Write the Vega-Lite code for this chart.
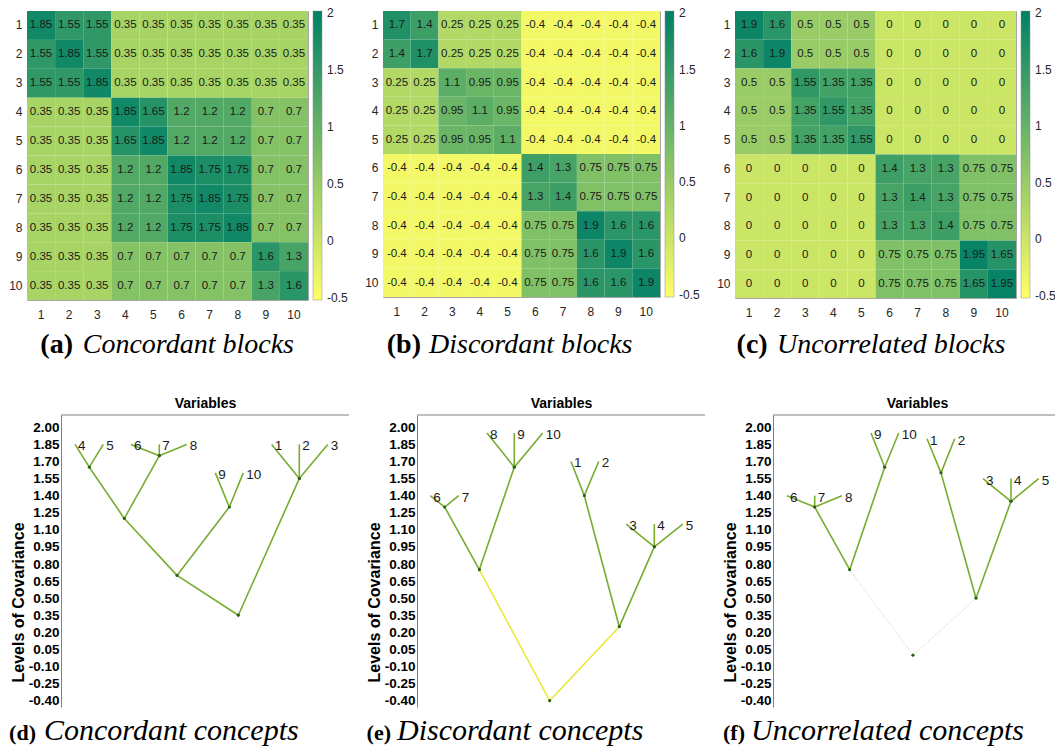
{
  "$schema": "https://vega.github.io/schema/vega-lite/v6.json",
  "background": "white",
  "padding": {"left": 8, "top": 10, "right": 0, "bottom": 0},
  "config": {
    "font": "Liberation Sans",
    "axis": {"grid": false, "labelOverlap": false},
    "legend": {"padding": 0}
  },
  "datasets": {
    "heatA": [
      {"r":1,"c":1,"v":1.85},{"r":1,"c":2,"v":1.55},{"r":1,"c":3,"v":1.55},{"r":1,"c":4,"v":0.35},{"r":1,"c":5,"v":0.35},{"r":1,"c":6,"v":0.35},{"r":1,"c":7,"v":0.35},{"r":1,"c":8,"v":0.35},{"r":1,"c":9,"v":0.35},{"r":1,"c":10,"v":0.35},
      {"r":2,"c":1,"v":1.55},{"r":2,"c":2,"v":1.85},{"r":2,"c":3,"v":1.55},{"r":2,"c":4,"v":0.35},{"r":2,"c":5,"v":0.35},{"r":2,"c":6,"v":0.35},{"r":2,"c":7,"v":0.35},{"r":2,"c":8,"v":0.35},{"r":2,"c":9,"v":0.35},{"r":2,"c":10,"v":0.35},
      {"r":3,"c":1,"v":1.55},{"r":3,"c":2,"v":1.55},{"r":3,"c":3,"v":1.85},{"r":3,"c":4,"v":0.35},{"r":3,"c":5,"v":0.35},{"r":3,"c":6,"v":0.35},{"r":3,"c":7,"v":0.35},{"r":3,"c":8,"v":0.35},{"r":3,"c":9,"v":0.35},{"r":3,"c":10,"v":0.35},
      {"r":4,"c":1,"v":0.35},{"r":4,"c":2,"v":0.35},{"r":4,"c":3,"v":0.35},{"r":4,"c":4,"v":1.85},{"r":4,"c":5,"v":1.65},{"r":4,"c":6,"v":1.2},{"r":4,"c":7,"v":1.2},{"r":4,"c":8,"v":1.2},{"r":4,"c":9,"v":0.7},{"r":4,"c":10,"v":0.7},
      {"r":5,"c":1,"v":0.35},{"r":5,"c":2,"v":0.35},{"r":5,"c":3,"v":0.35},{"r":5,"c":4,"v":1.65},{"r":5,"c":5,"v":1.85},{"r":5,"c":6,"v":1.2},{"r":5,"c":7,"v":1.2},{"r":5,"c":8,"v":1.2},{"r":5,"c":9,"v":0.7},{"r":5,"c":10,"v":0.7},
      {"r":6,"c":1,"v":0.35},{"r":6,"c":2,"v":0.35},{"r":6,"c":3,"v":0.35},{"r":6,"c":4,"v":1.2},{"r":6,"c":5,"v":1.2},{"r":6,"c":6,"v":1.85},{"r":6,"c":7,"v":1.75},{"r":6,"c":8,"v":1.75},{"r":6,"c":9,"v":0.7},{"r":6,"c":10,"v":0.7},
      {"r":7,"c":1,"v":0.35},{"r":7,"c":2,"v":0.35},{"r":7,"c":3,"v":0.35},{"r":7,"c":4,"v":1.2},{"r":7,"c":5,"v":1.2},{"r":7,"c":6,"v":1.75},{"r":7,"c":7,"v":1.85},{"r":7,"c":8,"v":1.75},{"r":7,"c":9,"v":0.7},{"r":7,"c":10,"v":0.7},
      {"r":8,"c":1,"v":0.35},{"r":8,"c":2,"v":0.35},{"r":8,"c":3,"v":0.35},{"r":8,"c":4,"v":1.2},{"r":8,"c":5,"v":1.2},{"r":8,"c":6,"v":1.75},{"r":8,"c":7,"v":1.75},{"r":8,"c":8,"v":1.85},{"r":8,"c":9,"v":0.7},{"r":8,"c":10,"v":0.7},
      {"r":9,"c":1,"v":0.35},{"r":9,"c":2,"v":0.35},{"r":9,"c":3,"v":0.35},{"r":9,"c":4,"v":0.7},{"r":9,"c":5,"v":0.7},{"r":9,"c":6,"v":0.7},{"r":9,"c":7,"v":0.7},{"r":9,"c":8,"v":0.7},{"r":9,"c":9,"v":1.6},{"r":9,"c":10,"v":1.3},
      {"r":10,"c":1,"v":0.35},{"r":10,"c":2,"v":0.35},{"r":10,"c":3,"v":0.35},{"r":10,"c":4,"v":0.7},{"r":10,"c":5,"v":0.7},{"r":10,"c":6,"v":0.7},{"r":10,"c":7,"v":0.7},{"r":10,"c":8,"v":0.7},{"r":10,"c":9,"v":1.3},{"r":10,"c":10,"v":1.6}
    ],
    "heatB": [
      {"r":1,"c":1,"v":1.7},{"r":1,"c":2,"v":1.4},{"r":1,"c":3,"v":0.25},{"r":1,"c":4,"v":0.25},{"r":1,"c":5,"v":0.25},{"r":1,"c":6,"v":-0.4},{"r":1,"c":7,"v":-0.4},{"r":1,"c":8,"v":-0.4},{"r":1,"c":9,"v":-0.4},{"r":1,"c":10,"v":-0.4},
      {"r":2,"c":1,"v":1.4},{"r":2,"c":2,"v":1.7},{"r":2,"c":3,"v":0.25},{"r":2,"c":4,"v":0.25},{"r":2,"c":5,"v":0.25},{"r":2,"c":6,"v":-0.4},{"r":2,"c":7,"v":-0.4},{"r":2,"c":8,"v":-0.4},{"r":2,"c":9,"v":-0.4},{"r":2,"c":10,"v":-0.4},
      {"r":3,"c":1,"v":0.25},{"r":3,"c":2,"v":0.25},{"r":3,"c":3,"v":1.1},{"r":3,"c":4,"v":0.95},{"r":3,"c":5,"v":0.95},{"r":3,"c":6,"v":-0.4},{"r":3,"c":7,"v":-0.4},{"r":3,"c":8,"v":-0.4},{"r":3,"c":9,"v":-0.4},{"r":3,"c":10,"v":-0.4},
      {"r":4,"c":1,"v":0.25},{"r":4,"c":2,"v":0.25},{"r":4,"c":3,"v":0.95},{"r":4,"c":4,"v":1.1},{"r":4,"c":5,"v":0.95},{"r":4,"c":6,"v":-0.4},{"r":4,"c":7,"v":-0.4},{"r":4,"c":8,"v":-0.4},{"r":4,"c":9,"v":-0.4},{"r":4,"c":10,"v":-0.4},
      {"r":5,"c":1,"v":0.25},{"r":5,"c":2,"v":0.25},{"r":5,"c":3,"v":0.95},{"r":5,"c":4,"v":0.95},{"r":5,"c":5,"v":1.1},{"r":5,"c":6,"v":-0.4},{"r":5,"c":7,"v":-0.4},{"r":5,"c":8,"v":-0.4},{"r":5,"c":9,"v":-0.4},{"r":5,"c":10,"v":-0.4},
      {"r":6,"c":1,"v":-0.4},{"r":6,"c":2,"v":-0.4},{"r":6,"c":3,"v":-0.4},{"r":6,"c":4,"v":-0.4},{"r":6,"c":5,"v":-0.4},{"r":6,"c":6,"v":1.4},{"r":6,"c":7,"v":1.3},{"r":6,"c":8,"v":0.75},{"r":6,"c":9,"v":0.75},{"r":6,"c":10,"v":0.75},
      {"r":7,"c":1,"v":-0.4},{"r":7,"c":2,"v":-0.4},{"r":7,"c":3,"v":-0.4},{"r":7,"c":4,"v":-0.4},{"r":7,"c":5,"v":-0.4},{"r":7,"c":6,"v":1.3},{"r":7,"c":7,"v":1.4},{"r":7,"c":8,"v":0.75},{"r":7,"c":9,"v":0.75},{"r":7,"c":10,"v":0.75},
      {"r":8,"c":1,"v":-0.4},{"r":8,"c":2,"v":-0.4},{"r":8,"c":3,"v":-0.4},{"r":8,"c":4,"v":-0.4},{"r":8,"c":5,"v":-0.4},{"r":8,"c":6,"v":0.75},{"r":8,"c":7,"v":0.75},{"r":8,"c":8,"v":1.9},{"r":8,"c":9,"v":1.6},{"r":8,"c":10,"v":1.6},
      {"r":9,"c":1,"v":-0.4},{"r":9,"c":2,"v":-0.4},{"r":9,"c":3,"v":-0.4},{"r":9,"c":4,"v":-0.4},{"r":9,"c":5,"v":-0.4},{"r":9,"c":6,"v":0.75},{"r":9,"c":7,"v":0.75},{"r":9,"c":8,"v":1.6},{"r":9,"c":9,"v":1.9},{"r":9,"c":10,"v":1.6},
      {"r":10,"c":1,"v":-0.4},{"r":10,"c":2,"v":-0.4},{"r":10,"c":3,"v":-0.4},{"r":10,"c":4,"v":-0.4},{"r":10,"c":5,"v":-0.4},{"r":10,"c":6,"v":0.75},{"r":10,"c":7,"v":0.75},{"r":10,"c":8,"v":1.6},{"r":10,"c":9,"v":1.6},{"r":10,"c":10,"v":1.9}
    ],
    "heatC": [
      {"r":1,"c":1,"v":1.9},{"r":1,"c":2,"v":1.6},{"r":1,"c":3,"v":0.5},{"r":1,"c":4,"v":0.5},{"r":1,"c":5,"v":0.5},{"r":1,"c":6,"v":0},{"r":1,"c":7,"v":0},{"r":1,"c":8,"v":0},{"r":1,"c":9,"v":0},{"r":1,"c":10,"v":0},
      {"r":2,"c":1,"v":1.6},{"r":2,"c":2,"v":1.9},{"r":2,"c":3,"v":0.5},{"r":2,"c":4,"v":0.5},{"r":2,"c":5,"v":0.5},{"r":2,"c":6,"v":0},{"r":2,"c":7,"v":0},{"r":2,"c":8,"v":0},{"r":2,"c":9,"v":0},{"r":2,"c":10,"v":0},
      {"r":3,"c":1,"v":0.5},{"r":3,"c":2,"v":0.5},{"r":3,"c":3,"v":1.55},{"r":3,"c":4,"v":1.35},{"r":3,"c":5,"v":1.35},{"r":3,"c":6,"v":0},{"r":3,"c":7,"v":0},{"r":3,"c":8,"v":0},{"r":3,"c":9,"v":0},{"r":3,"c":10,"v":0},
      {"r":4,"c":1,"v":0.5},{"r":4,"c":2,"v":0.5},{"r":4,"c":3,"v":1.35},{"r":4,"c":4,"v":1.55},{"r":4,"c":5,"v":1.35},{"r":4,"c":6,"v":0},{"r":4,"c":7,"v":0},{"r":4,"c":8,"v":0},{"r":4,"c":9,"v":0},{"r":4,"c":10,"v":0},
      {"r":5,"c":1,"v":0.5},{"r":5,"c":2,"v":0.5},{"r":5,"c":3,"v":1.35},{"r":5,"c":4,"v":1.35},{"r":5,"c":5,"v":1.55},{"r":5,"c":6,"v":0},{"r":5,"c":7,"v":0},{"r":5,"c":8,"v":0},{"r":5,"c":9,"v":0},{"r":5,"c":10,"v":0},
      {"r":6,"c":1,"v":0},{"r":6,"c":2,"v":0},{"r":6,"c":3,"v":0},{"r":6,"c":4,"v":0},{"r":6,"c":5,"v":0},{"r":6,"c":6,"v":1.4},{"r":6,"c":7,"v":1.3},{"r":6,"c":8,"v":1.3},{"r":6,"c":9,"v":0.75},{"r":6,"c":10,"v":0.75},
      {"r":7,"c":1,"v":0},{"r":7,"c":2,"v":0},{"r":7,"c":3,"v":0},{"r":7,"c":4,"v":0},{"r":7,"c":5,"v":0},{"r":7,"c":6,"v":1.3},{"r":7,"c":7,"v":1.4},{"r":7,"c":8,"v":1.3},{"r":7,"c":9,"v":0.75},{"r":7,"c":10,"v":0.75},
      {"r":8,"c":1,"v":0},{"r":8,"c":2,"v":0},{"r":8,"c":3,"v":0},{"r":8,"c":4,"v":0},{"r":8,"c":5,"v":0},{"r":8,"c":6,"v":1.3},{"r":8,"c":7,"v":1.3},{"r":8,"c":8,"v":1.4},{"r":8,"c":9,"v":0.75},{"r":8,"c":10,"v":0.75},
      {"r":9,"c":1,"v":0},{"r":9,"c":2,"v":0},{"r":9,"c":3,"v":0},{"r":9,"c":4,"v":0},{"r":9,"c":5,"v":0},{"r":9,"c":6,"v":0.75},{"r":9,"c":7,"v":0.75},{"r":9,"c":8,"v":0.75},{"r":9,"c":9,"v":1.95},{"r":9,"c":10,"v":1.65},
      {"r":10,"c":1,"v":0},{"r":10,"c":2,"v":0},{"r":10,"c":3,"v":0},{"r":10,"c":4,"v":0},{"r":10,"c":5,"v":0},{"r":10,"c":6,"v":0.75},{"r":10,"c":7,"v":0.75},{"r":10,"c":8,"v":0.75},{"r":10,"c":9,"v":1.65},{"r":10,"c":10,"v":1.95}
    ],
    "treeD": [
      {"x":14,"y":1.85,"x2":28.3,"y2":1.65,"leaf":"4"},
      {"x":42.3,"y":1.85,"x2":28.3,"y2":1.65,"leaf":"5"},
      {"x":70,"y":1.85,"x2":98.3,"y2":1.75,"leaf":"6"},
      {"x":98.3,"y":1.85,"x2":98.3,"y2":1.75,"leaf":"7"},
      {"x":125.7,"y":1.85,"x2":98.3,"y2":1.75,"leaf":"8"},
      {"x":28.3,"y":1.65,"x2":63.3,"y2":1.2},
      {"x":98.3,"y":1.75,"x2":63.3,"y2":1.2},
      {"x":154.3,"y":1.6,"x2":168.3,"y2":1.3,"leaf":"9"},
      {"x":182.3,"y":1.6,"x2":168.3,"y2":1.3,"leaf":"10"},
      {"x":63.3,"y":1.2,"x2":116,"y2":0.7},
      {"x":168.3,"y":1.3,"x2":116,"y2":0.7},
      {"x":210.7,"y":1.85,"x2":238.3,"y2":1.55,"leaf":"1"},
      {"x":238.3,"y":1.85,"x2":238.3,"y2":1.55,"leaf":"2"},
      {"x":266.7,"y":1.85,"x2":238.3,"y2":1.55,"leaf":"3"},
      {"x":116,"y":0.7,"x2":177.3,"y2":0.35,"k":"root"},
      {"x":238.3,"y":1.55,"x2":177.3,"y2":0.35,"k":"root"}
    ],
    "treeE": [
      {"x":13.3,"y":1.4,"x2":27.7,"y2":1.3,"leaf":"6"},
      {"x":41.7,"y":1.4,"x2":27.7,"y2":1.3,"leaf":"7"},
      {"x":70,"y":1.95,"x2":97.3,"y2":1.65,"leaf":"8"},
      {"x":97.3,"y":1.95,"x2":97.3,"y2":1.65,"leaf":"9"},
      {"x":125.7,"y":1.95,"x2":97.3,"y2":1.65,"leaf":"10"},
      {"x":27.7,"y":1.3,"x2":62.3,"y2":0.75},
      {"x":97.3,"y":1.65,"x2":62.3,"y2":0.75},
      {"x":154,"y":1.7,"x2":167.3,"y2":1.4,"leaf":"1"},
      {"x":181.7,"y":1.7,"x2":167.3,"y2":1.4,"leaf":"2"},
      {"x":209.3,"y":1.15,"x2":237.3,"y2":0.95,"leaf":"3"},
      {"x":237.3,"y":1.15,"x2":237.3,"y2":0.95,"leaf":"4"},
      {"x":265.7,"y":1.15,"x2":237.3,"y2":0.95,"leaf":"5"},
      {"x":167.3,"y":1.4,"x2":202.3,"y2":0.25},
      {"x":237.3,"y":0.95,"x2":202.3,"y2":0.25},
      {"x":62.3,"y":0.75,"x2":132.7,"y2":-0.4,"k":"root"},
      {"x":202.3,"y":0.25,"x2":132.7,"y2":-0.4,"k":"root"}
    ],
    "treeF": [
      {"x":14,"y":1.4,"x2":41.7,"y2":1.3,"leaf":"6"},
      {"x":41.7,"y":1.4,"x2":41.7,"y2":1.3,"leaf":"7"},
      {"x":69,"y":1.4,"x2":41.7,"y2":1.3,"leaf":"8"},
      {"x":98,"y":1.95,"x2":111.7,"y2":1.65,"leaf":"9"},
      {"x":125.7,"y":1.95,"x2":111.7,"y2":1.65,"leaf":"10"},
      {"x":41.7,"y":1.3,"x2":76.7,"y2":0.75},
      {"x":111.7,"y":1.65,"x2":76.7,"y2":0.75},
      {"x":154,"y":1.9,"x2":168,"y2":1.6,"leaf":"1"},
      {"x":181.7,"y":1.9,"x2":168,"y2":1.6,"leaf":"2"},
      {"x":210,"y":1.55,"x2":238,"y2":1.35,"leaf":"3"},
      {"x":238,"y":1.55,"x2":238,"y2":1.35,"leaf":"4"},
      {"x":265.7,"y":1.55,"x2":238,"y2":1.35,"leaf":"5"},
      {"x":168,"y":1.6,"x2":203,"y2":0.5},
      {"x":238,"y":1.35,"x2":203,"y2":0.5},
      {"x":76.7,"y":0.75,"x2":140,"y2":0,"k":"root"},
      {"x":203,"y":0.5,"x2":140,"y2":0,"k":"root"}
    ]
  },
  "spacing": 36,
  "resolve": {"scale": {"color": "independent"}, "legend": {"color": "independent"}},
  "vconcat": [
    {
      "spacing": 15,
      "resolve": {"scale": {"color": "independent"}, "legend": {"color": "independent"}},
      "hconcat": [
        {
          "width": 281, "height": 289,
          "view": {"stroke": "#a6a6a6", "strokeWidth": 1},
          "data": {"name": "heatA"},
          "layer": [
            {
              "mark": {"type": "rect"},
              "encoding": {
                "x": {"field": "c", "type": "ordinal", "scale": {"paddingInner": 0, "paddingOuter": 0},
                  "axis": {"orient": "bottom", "title": null, "domain": false, "ticks": false, "labelAngle": 0, "labelPadding": 9, "labelFontSize": 12, "labelColor": "#262626"}},
                "y": {"field": "r", "type": "ordinal", "scale": {"paddingInner": 0, "paddingOuter": 0},
                  "axis": {"title": null, "domain": false, "ticks": false, "labelPadding": 5, "labelFontSize": 12, "labelColor": "#262626"}},
                "color": {"field": "v", "type": "quantitative",
                  "scale": {"domain": [-0.52, 2.02], "range": ["#ffff66", "#008066"], "interpolate": "rgb"},
                  "legend": {"orient": "right", "offset": 5, "padding": 0, "title": null, "direction": "vertical", "gradientLength": 289, "gradientThickness": 9, "gradientStrokeColor": "#8c8c8c", "gradientStrokeWidth": 0.5, "labelOffset": 5, "labelFontSize": 12, "labelColor": "#262626", "values": [-0.5, 0, 0.5, 1, 1.5, 2], "labelExpr": "datum.value + ''", "labelOverlap": false}}
              }
            },
            {
              "mark": {"type": "text", "fontSize": 11.5, "color": "#1a1a1a"},
              "encoding": {
                "x": {"field": "c", "type": "ordinal"},
                "y": {"field": "r", "type": "ordinal"},
                "text": {"field": "v", "type": "nominal"}
              }
            },
            {
              "data": {"values": [{"t": "(a)"}]},
              "mark": {"type": "text", "font": "Liberation Serif", "fontWeight": "bold", "fontSize": 28, "align": "right", "baseline": "alphabetic", "y": "height", "dy": 53, "dx": -94.5, "color": "black"},
              "encoding": {"text": {"field": "t", "type": "nominal"}}
            },
            {
              "data": {"values": [{"t": "Concordant blocks"}]},
              "mark": {"type": "text", "font": "Liberation Serif", "fontStyle": "italic", "fontSize": 28, "align": "left", "baseline": "alphabetic", "y": "height", "dy": 53, "dx": -84.8, "color": "black"},
              "encoding": {"text": {"field": "t", "type": "nominal"}}
            }
          ]
        },
        {
          "width": 277, "height": 286,
          "view": {"stroke": "#a6a6a6", "strokeWidth": 1},
          "data": {"name": "heatB"},
          "layer": [
            {
              "mark": {"type": "rect"},
              "encoding": {
                "x": {"field": "c", "type": "ordinal", "scale": {"paddingInner": 0, "paddingOuter": 0},
                  "axis": {"orient": "bottom", "title": null, "domain": false, "ticks": false, "labelAngle": 0, "labelPadding": 9, "labelFontSize": 12, "labelColor": "#262626"}},
                "y": {"field": "r", "type": "ordinal", "scale": {"paddingInner": 0, "paddingOuter": 0},
                  "axis": {"title": null, "domain": false, "ticks": false, "labelPadding": 5, "labelFontSize": 12, "labelColor": "#262626"}},
                "color": {"field": "v", "type": "quantitative",
                  "scale": {"domain": [-0.52, 2.02], "range": ["#ffff66", "#008066"], "interpolate": "rgb"},
                  "legend": {"orient": "right", "offset": 5, "padding": 0, "title": null, "direction": "vertical", "gradientLength": 286, "gradientThickness": 9, "gradientStrokeColor": "#8c8c8c", "gradientStrokeWidth": 0.5, "labelOffset": 5, "labelFontSize": 12, "labelColor": "#262626", "values": [-0.5, 0, 0.5, 1, 1.5, 2], "labelExpr": "datum.value + ''", "labelOverlap": false}}
              }
            },
            {
              "mark": {"type": "text", "fontSize": 11.5, "color": "#1a1a1a"},
              "encoding": {
                "x": {"field": "c", "type": "ordinal"},
                "y": {"field": "r", "type": "ordinal"},
                "text": {"field": "v", "type": "nominal"}
              }
            },
            {
              "data": {"values": [{"t": "(b)"}]},
              "mark": {"type": "text", "font": "Liberation Serif", "fontWeight": "bold", "fontSize": 28, "align": "right", "baseline": "alphabetic", "y": "height", "dy": 56, "dx": -100.5, "color": "black"},
              "encoding": {"text": {"field": "t", "type": "nominal"}}
            },
            {
              "data": {"values": [{"t": "Discordant blocks"}]},
              "mark": {"type": "text", "font": "Liberation Serif", "fontStyle": "italic", "fontSize": 28, "align": "left", "baseline": "alphabetic", "y": "height", "dy": 56, "dx": -92.5, "color": "black"},
              "encoding": {"text": {"field": "t", "type": "nominal"}}
            }
          ]
        },
        {
          "width": 281, "height": 287,
          "view": {"stroke": "#a6a6a6", "strokeWidth": 1},
          "data": {"name": "heatC"},
          "layer": [
            {
              "mark": {"type": "rect"},
              "encoding": {
                "x": {"field": "c", "type": "ordinal", "scale": {"paddingInner": 0, "paddingOuter": 0},
                  "axis": {"orient": "bottom", "title": null, "domain": false, "ticks": false, "labelAngle": 0, "labelPadding": 9, "labelFontSize": 12, "labelColor": "#262626"}},
                "y": {"field": "r", "type": "ordinal", "scale": {"paddingInner": 0, "paddingOuter": 0},
                  "axis": {"title": null, "domain": false, "ticks": false, "labelPadding": 5, "labelFontSize": 12, "labelColor": "#262626"}},
                "color": {"field": "v", "type": "quantitative",
                  "scale": {"domain": [-0.52, 2.02], "range": ["#ffff66", "#008066"], "interpolate": "rgb"},
                  "legend": {"orient": "right", "offset": 5, "padding": 0, "title": null, "direction": "vertical", "gradientLength": 287, "gradientThickness": 9, "gradientStrokeColor": "#8c8c8c", "gradientStrokeWidth": 0.5, "labelOffset": 5, "labelFontSize": 12, "labelColor": "#262626", "values": [-0.5, 0, 0.5, 1, 1.5, 2], "labelExpr": "datum.value + ''", "labelOverlap": false}}
              }
            },
            {
              "mark": {"type": "text", "fontSize": 11.5, "color": "#1a1a1a"},
              "encoding": {
                "x": {"field": "c", "type": "ordinal"},
                "y": {"field": "r", "type": "ordinal"},
                "text": {"field": "v", "type": "nominal"}
              }
            },
            {
              "data": {"values": [{"t": "(c)"}]},
              "mark": {"type": "text", "font": "Liberation Serif", "fontWeight": "bold", "fontSize": 28, "align": "right", "baseline": "alphabetic", "y": "height", "dy": 55, "dx": -107.8, "color": "black"},
              "encoding": {"text": {"field": "t", "type": "nominal"}}
            },
            {
              "data": {"values": [{"t": "Uncorrelated blocks"}]},
              "mark": {"type": "text", "font": "Liberation Serif", "fontStyle": "italic", "fontSize": 28, "align": "left", "baseline": "alphabetic", "y": "height", "dy": 55, "dx": -98.5, "color": "black"},
              "encoding": {"text": {"field": "t", "type": "nominal"}}
            }
          ]
        }
      ]
    },
    {
      "spacing": 16,
      "hconcat": [
        {
          "width": 322, "height": 292,
          "view": {"stroke": null},
          "data": {"name": "treeD"},
          "layer": [
            {
              "data": {"values": [{"top": 2.108, "from": 0, "to": 288}]},
              "mark": {"type": "rule", "color": "#808080", "strokeWidth": 1},
              "encoding": {
                "x": {"field": "from", "type": "quantitative", "scale": {"domain": [-34, 288], "nice": false, "zero": false},
                  "axis": {"orient": "top", "title": "Variables", "titleX": 178, "domain": false, "labels": false, "ticks": false, "grid": false, "titleFontWeight": "bold", "titleFontSize": 14, "titleColor": "black", "titlePadding": 5}},
                "x2": {"field": "to"},
                "y": {"field": "top", "type": "quantitative", "scale": {"domain": [-0.455, 2.108], "nice": false, "zero": false},
                  "axis": {"title": "Levels of Covariance", "offset": -34, "values": [-0.4, -0.25, -0.1, 0.05, 0.2, 0.35, 0.5, 0.65, 0.8, 0.95, 1.1, 1.25, 1.4, 1.55, 1.7, 1.85, 2.0], "tickCount": 30, "labelExpr": "replace(format(datum.value, '.2f'), '\u2212', '-')", "labelOverlap": false, "labelFlush": false, "ticks": false, "grid": false, "domainColor": "#808080", "labelPadding": 2, "labelFontWeight": "bold", "labelFontSize": 13.5, "labelColor": "black", "titleFontWeight": "bold", "titleFontSize": 16, "titleColor": "black", "titlePadding": 2, "titleY": 187}}
              }
            },
            {
              "mark": {"type": "rule", "color": "#77ac30", "strokeWidth": 1.6},
              "encoding": {
                "x": {"field": "x", "type": "quantitative"},
                "y": {"field": "y", "type": "quantitative"},
                "x2": {"field": "x2"},
                "y2": {"field": "y2"}
              }
            },
            {
              "mark": {"type": "point", "filled": true, "size": 8, "color": "#2e5e1a", "opacity": 1},
              "encoding": {
                "x": {"field": "x2", "type": "quantitative"},
                "y": {"field": "y2", "type": "quantitative"}
              }
            },
            {
              "transform": [{"filter": "isValid(datum.leaf)"}],
              "mark": {"type": "text", "align": "left", "baseline": "middle", "dx": 3, "dy": 2, "fontSize": 13.5, "color": "#1a1a1a"},
              "encoding": {
                "x": {"field": "x", "type": "quantitative"},
                "y": {"field": "y", "type": "quantitative"},
                "text": {"field": "leaf", "type": "nominal"}
              }
            },
            {
              "data": {"values": [{"t": "(d)"}]},
              "mark": {"type": "text", "font": "Liberation Serif", "fontWeight": "bold", "fontSize": 22, "align": "right", "baseline": "alphabetic", "y": "height", "dy": 33, "dx": -152, "color": "black"},
              "encoding": {"text": {"field": "t", "type": "nominal"}}
            },
            {
              "data": {"values": [{"t": "Concordant concepts"}]},
              "mark": {"type": "text", "font": "Liberation Serif", "fontStyle": "italic", "fontSize": 30, "align": "left", "baseline": "alphabetic", "y": "height", "dy": 33, "dx": -144, "color": "black"},
              "encoding": {"text": {"field": "t", "type": "nominal"}}
            }
          ]
        },
        {
          "width": 322, "height": 292,
          "view": {"stroke": null},
          "data": {"name": "treeE"},
          "layer": [
            {
              "data": {"values": [{"top": 2.108, "from": 0, "to": 288}]},
              "mark": {"type": "rule", "color": "#808080", "strokeWidth": 1},
              "encoding": {
                "x": {"field": "from", "type": "quantitative", "scale": {"domain": [-34, 288], "nice": false, "zero": false},
                  "axis": {"orient": "top", "title": "Variables", "titleX": 178, "domain": false, "labels": false, "ticks": false, "grid": false, "titleFontWeight": "bold", "titleFontSize": 14, "titleColor": "black", "titlePadding": 5}},
                "x2": {"field": "to"},
                "y": {"field": "top", "type": "quantitative", "scale": {"domain": [-0.455, 2.108], "nice": false, "zero": false},
                  "axis": {"title": "Levels of Covariance", "offset": -34, "values": [-0.4, -0.25, -0.1, 0.05, 0.2, 0.35, 0.5, 0.65, 0.8, 0.95, 1.1, 1.25, 1.4, 1.55, 1.7, 1.85, 2.0], "tickCount": 30, "labelExpr": "replace(format(datum.value, '.2f'), '\u2212', '-')", "labelOverlap": false, "labelFlush": false, "ticks": false, "grid": false, "domainColor": "#808080", "labelPadding": 2, "labelFontWeight": "bold", "labelFontSize": 13.5, "labelColor": "black", "titleFontWeight": "bold", "titleFontSize": 16, "titleColor": "black", "titlePadding": 2, "titleY": 187}}
              }
            },
            {
              "transform": [{"filter": "datum.k != 'root'"}],
              "mark": {"type": "rule", "color": "#77ac30", "strokeWidth": 1.6},
              "encoding": {
                "x": {"field": "x", "type": "quantitative"},
                "y": {"field": "y", "type": "quantitative"},
                "x2": {"field": "x2"},
                "y2": {"field": "y2"}
              }
            },
            {
              "transform": [{"filter": "datum.k == 'root'"}],
              "mark": {"type": "rule", "color": "#e8e83a", "strokeWidth": 1.6},
              "encoding": {
                "x": {"field": "x", "type": "quantitative"},
                "y": {"field": "y", "type": "quantitative"},
                "x2": {"field": "x2"},
                "y2": {"field": "y2"}
              }
            },
            {
              "mark": {"type": "point", "filled": true, "size": 8, "color": "#2e5e1a", "opacity": 1},
              "encoding": {
                "x": {"field": "x2", "type": "quantitative"},
                "y": {"field": "y2", "type": "quantitative"}
              }
            },
            {
              "transform": [{"filter": "isValid(datum.leaf)"}],
              "mark": {"type": "text", "align": "left", "baseline": "middle", "dx": 3, "dy": 2, "fontSize": 13.5, "color": "#1a1a1a"},
              "encoding": {
                "x": {"field": "x", "type": "quantitative"},
                "y": {"field": "y", "type": "quantitative"},
                "text": {"field": "leaf", "type": "nominal"}
              }
            },
            {
              "data": {"values": [{"t": "(e)"}]},
              "mark": {"type": "text", "font": "Liberation Serif", "fontWeight": "bold", "fontSize": 22, "align": "right", "baseline": "alphabetic", "y": "height", "dy": 33, "dx": -153, "color": "black"},
              "encoding": {"text": {"field": "t", "type": "nominal"}}
            },
            {
              "data": {"values": [{"t": "Discordant concepts"}]},
              "mark": {"type": "text", "font": "Liberation Serif", "fontStyle": "italic", "fontSize": 30, "align": "left", "baseline": "alphabetic", "y": "height", "dy": 33, "dx": -147, "color": "black"},
              "encoding": {"text": {"field": "t", "type": "nominal"}}
            }
          ]
        },
        {
          "width": 322, "height": 292,
          "view": {"stroke": null},
          "data": {"name": "treeF"},
          "layer": [
            {
              "data": {"values": [{"top": 2.108, "from": 0, "to": 288}]},
              "mark": {"type": "rule", "color": "#808080", "strokeWidth": 1},
              "encoding": {
                "x": {"field": "from", "type": "quantitative", "scale": {"domain": [-34, 288], "nice": false, "zero": false},
                  "axis": {"orient": "top", "title": "Variables", "titleX": 178, "domain": false, "labels": false, "ticks": false, "grid": false, "titleFontWeight": "bold", "titleFontSize": 14, "titleColor": "black", "titlePadding": 5}},
                "x2": {"field": "to"},
                "y": {"field": "top", "type": "quantitative", "scale": {"domain": [-0.455, 2.108], "nice": false, "zero": false},
                  "axis": {"title": "Levels of Covariance", "offset": -34, "values": [-0.4, -0.25, -0.1, 0.05, 0.2, 0.35, 0.5, 0.65, 0.8, 0.95, 1.1, 1.25, 1.4, 1.55, 1.7, 1.85, 2.0], "tickCount": 30, "labelExpr": "replace(format(datum.value, '.2f'), '\u2212', '-')", "labelOverlap": false, "labelFlush": false, "ticks": false, "grid": false, "domainColor": "#808080", "labelPadding": 2, "labelFontWeight": "bold", "labelFontSize": 13.5, "labelColor": "black", "titleFontWeight": "bold", "titleFontSize": 16, "titleColor": "black", "titlePadding": 2, "titleY": 187}}
              }
            },
            {
              "transform": [{"filter": "datum.k != 'root'"}],
              "mark": {"type": "rule", "color": "#77ac30", "strokeWidth": 1.6},
              "encoding": {
                "x": {"field": "x", "type": "quantitative"},
                "y": {"field": "y", "type": "quantitative"},
                "x2": {"field": "x2"},
                "y2": {"field": "y2"}
              }
            },
            {
              "transform": [{"filter": "datum.k == 'root'"}],
              "mark": {"type": "rule", "color": "#c4cbb8", "strokeWidth": 1, "strokeDash": [1, 2]},
              "encoding": {
                "x": {"field": "x", "type": "quantitative"},
                "y": {"field": "y", "type": "quantitative"},
                "x2": {"field": "x2"},
                "y2": {"field": "y2"}
              }
            },
            {
              "mark": {"type": "point", "filled": true, "size": 8, "color": "#2e5e1a", "opacity": 1},
              "encoding": {
                "x": {"field": "x2", "type": "quantitative"},
                "y": {"field": "y2", "type": "quantitative"}
              }
            },
            {
              "transform": [{"filter": "isValid(datum.leaf)"}],
              "mark": {"type": "text", "align": "left", "baseline": "middle", "dx": 3, "dy": 2, "fontSize": 13.5, "color": "#1a1a1a"},
              "encoding": {
                "x": {"field": "x", "type": "quantitative"},
                "y": {"field": "y", "type": "quantitative"},
                "text": {"field": "leaf", "type": "nominal"}
              }
            },
            {
              "data": {"values": [{"t": "(f)"}]},
              "mark": {"type": "text", "font": "Liberation Serif", "fontWeight": "bold", "fontSize": 22, "align": "right", "baseline": "alphabetic", "y": "height", "dy": 33, "dx": -155, "color": "black"},
              "encoding": {"text": {"field": "t", "type": "nominal"}}
            },
            {
              "data": {"values": [{"t": "Uncorrelated concepts"}]},
              "mark": {"type": "text", "font": "Liberation Serif", "fontStyle": "italic", "fontSize": 30, "align": "left", "baseline": "alphabetic", "y": "height", "dy": 33, "dx": -149, "color": "black"},
              "encoding": {"text": {"field": "t", "type": "nominal"}}
            }
          ]
        }
      ]
    }
  ]
}
